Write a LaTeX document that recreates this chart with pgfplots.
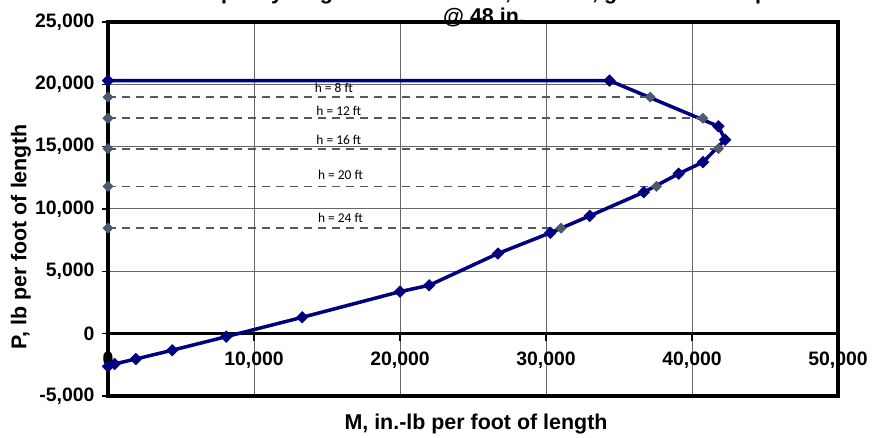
\documentclass[border=0pt]{standalone}
\usepackage{pgfplots}
\pgfplotsset{compat=1.18}
\usepackage{fontspec}
\setmainfont{Liberation Sans}
\newfontfamily\calib{Carlito}
\definecolor{navy}{HTML}{000080}
\definecolor{slate}{HTML}{4D5A6E}
\begin{document}
\begin{tikzpicture}
\path (0,0) rectangle (878bp,434bp);
\begin{axis}[
  at={(108bp,38bp)}, anchor=south west,
  scale only axis, width=730bp, height=374bp,
  xmin=0, xmax=50000, ymin=-5000, ymax=25000,
  scaled ticks=false,
  axis line style={line width=3.4bp, black},
  xtick={0,10000,20000,30000,40000,50000},
  ytick={-5000,0,5000,10000,15000,20000,25000},
  xticklabels={0,{10,000},{20,000},{30,000},{40,000},{50,000}},
  yticklabels={{-5,000},0,{5,000},{10,000},{15,000},{20,000},{25,000}},
  ytick pos=left,
  tick align=outside,
  major tick length=6bp,
  xtick style={draw=none},
  ytick style={black, line width=1.4bp},
  grid=major,
  grid style={black!60, line width=1bp},
  extra y ticks={0},
  extra y tick labels={},
  extra y tick style={grid=major, major grid style={black, line width=3.4bp}},
  tick label style={font=\bfseries\fontsize{19.5}{19.5}\selectfont},
  xticklabel style={yshift=54bp},
  yticklabel style={xshift=-4bp},
  clip=false,
]
\addplot[navy, line width=3.5bp, mark=square*, mark size=3.9bp,
  mark options={rotate=45, fill=navy, draw=navy, line width=1bp}] coordinates {
  (0,20300) (34350,20300) (41810,16630) (42270,15560) (40750,13760)
  (39090,12830) (36700,11350) (33000,9450) (30300,8090) (26710,6430)
  (22000,3880) (20000,3370) (13300,1310) (8100,-240) (4400,-1330)
  (1910,-2030) (450,-2430) (0,-2620)
};
\addplot[slate, line width=1.8bp, dash pattern=on 8bp off 6bp, mark=square*, mark size=3bp,
  mark options={solid, rotate=45, fill=slate, draw=slate}] coordinates {(0,18980) (37140,18980)};
\addplot[slate, line width=1.8bp, dash pattern=on 8bp off 6bp, mark=square*, mark size=3bp,
  mark options={solid, rotate=45, fill=slate, draw=slate}] coordinates {(0,17280) (40750,17280)};
\addplot[slate, line width=1.8bp, dash pattern=on 8bp off 6bp, mark=square*, mark size=3bp,
  mark options={solid, rotate=45, fill=slate, draw=slate}] coordinates {(0,14840) (41810,14840)};
\addplot[slate, line width=1.8bp, dash pattern=on 8bp off 6bp, mark=square*, mark size=3bp,
  mark options={solid, rotate=45, fill=slate, draw=slate}] coordinates {(0,11810) (37570,11810)};
\addplot[slate, line width=1.8bp, dash pattern=on 8bp off 6bp, mark=square*, mark size=3bp,
  mark options={solid, rotate=45, fill=slate, draw=slate}] coordinates {(0,8460) (31030,8460)};
\coordinate (t1) at (axis cs:10000,0);
\coordinate (t2) at (axis cs:20000,0);
\coordinate (t3) at (axis cs:30000,0);
\coordinate (t4) at (axis cs:40000,0);
\node[font=\calib\fontsize{13.5}{13.5}\selectfont] at (axis cs:15470,19680) {h = 8 ft};
\node[font=\calib\fontsize{13.5}{13.5}\selectfont] at (axis cs:15810,17850) {h = 12 ft};
\node[font=\calib\fontsize{13.5}{13.5}\selectfont] at (axis cs:15810,15560) {h = 16 ft};
\node[font=\calib\fontsize{13.5}{13.5}\selectfont] at (axis cs:15920,12750) {h = 20 ft};
\node[font=\calib\fontsize{13.5}{13.5}\selectfont] at (axis cs:15920,9260) {h = 24 ft};
\end{axis}
\foreach \t in {t1,t2,t3,t4} \draw[black, line width=1.6bp] (\t) -- ++(0,-7bp);
\node[overlay, anchor=base, font=\bfseries\fontsize{21.5}{21.5}\selectfont] at (484bp,434.5bp) {Capacity diagram for 8-in. wall, \#5 bars, grouted cells sp.};
\node[anchor=base, font=\bfseries\fontsize{21.5}{21.5}\selectfont] at (484bp,410bp) {@ 48 in.};
\node[rotate=90, font=\bfseries\fontsize{21.5}{21.5}\selectfont] at (21bp,197bp) {P, lb per foot of length};
\node[font=\bfseries\fontsize{21.5}{21.5}\selectfont] at (476bp,10bp) {M, in.-lb per foot of length};
\end{tikzpicture}
\end{document}
